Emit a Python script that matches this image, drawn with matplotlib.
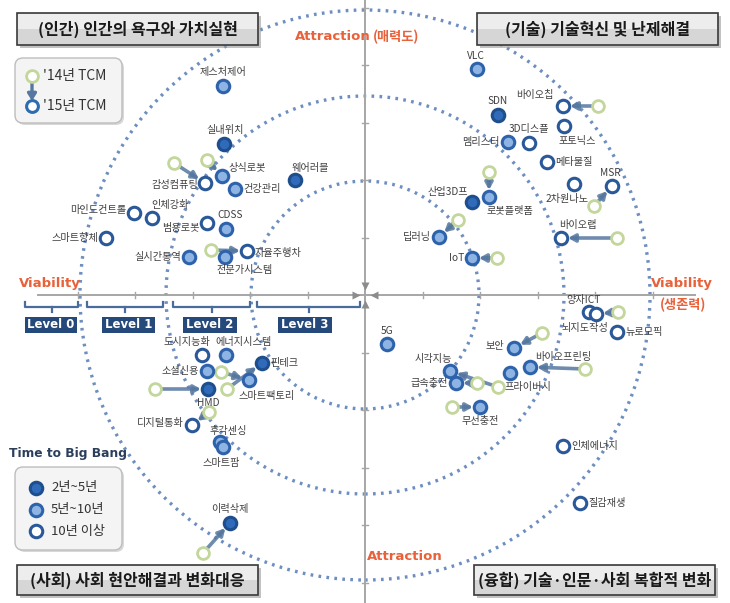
import matplotlib
matplotlib.use("Agg")
import matplotlib.pyplot as plt
from matplotlib.patches import Circle, FancyBboxPatch
import numpy as np

plt.rcParams['font.family'] = ['Noto Sans CJK KR', 'DejaVu Sans']

# ---------------- data (viability x, attraction y) ----------------
names = ['제스처제어', '실내위치', '상식로봇', '감성컴퓨팅', '웨어러블', '건강관리', '마인드컨트롤',
         '인체강화', '스마트항체', '범용로봇', 'CDSS', '자율주행차', '실시간통역', '전문가시스템',
         'VLC', 'SDN', '바이오칩', '3D디스플', '멤리스터', '포토닉스', '메타물질', '2차원나노',
         'MSR', '산업3D프', '로봇플랫폼', '딥러닝', 'IoT', '바이오랩',
         '도시지능화', '에너지시스템', '핀테크', '소셜신용', '스마트팩토리', 'HMD', '디지털통화',
         '후각센싱', '스마트팜', '이력삭제',
         '양자ICT', '뇌지도작성', '뉴로모픽', '5G', '보안', '바이오프린팅', '프라이버시',
         '시각지능', '급속충전', '무선충전', '인체에너지', '질감재생']
x15 = [-142, -141, -143, -160, -70, -130, -231, -213, -259, -158, -139, -118, -176, -140,
       112, 133, 198, 164, 143, 199, 182, 209, 247, 107, 124, 74, 107, 196,
       -163, -139, -103, -158, -116, -157, -173, -145, -142, -135,
       224, 231, 252, 22, 149, 165, 145, 85, 91, 115, 198, 215]
y15 = [209, 151, 119, 112, 115, 106, 82, 77, 57, 72, 66, 44, 38, 38,
       226, 180, 189, 152, 153, 169, 133, 111, 109, 93, 98, 58, 37, 57,
       -60, -60, -68, -76, -85, -94, -130, -147, -152, -228,
       -17, -19, -37, -49, -53, -72, -78, -76, -88, -112, -151, -208]
# time to big bang: 0 = 2~5y, 1 = 5~10y, 2 = 10y+
horizon = [1, 0, 1, 2, 0, 1, 2, 2, 2, 2, 1, 2, 1, 1,
           1, 0, 2, 2, 1, 2, 2, 2, 2, 0, 1, 1, 1, 2,
           2, 1, 0, 1, 1, 0, 2, 1, 1, 0,
           2, 2, 2, 1, 1, 1, 1, 1, 1, 1, 2, 2]
# '14 TCM positions (None = no move)
x14 = [None, None, -158, -191, None, None, None, None, None, None, None, -154, None, None,
       None, None, 233, None, None, None, None, None, 229, None, 124, 93, 132, 252,
       None, None, -138, None, -144, -210, -156, None, None, -162,
       None, 253, None, None, 177, 220, None, 133, 112, 87, None, None]
y14 = [None, None, 135, 132, None, None, None, None, None, None, None, 45, None, None,
       None, None, 189, None, None, None, None, None, 89, None, 123, 75, 37, 57,
       None, None, -94, None, -77, -94, -117, None, None, -258,
       None, -17, None, None, -38, -74, None, -92, -88, -112, None, None]

ring_radii = [114, 199, 285]
levels = ['Level 0', 'Level 1', 'Level 2', 'Level 3']
quadrant_titles = ['(인간) 인간의 욕구와 가치실현', '(기술) 기술혁신 및 난제해결',
                   '(사회) 사회 현안해결과 변화대응', '(융합) 기술·인문·사회 복합적 변화']
horizon_labels = ['2년~5년', '5년~10년', '10년 이상']
tcm_labels = ["'14년 TCM", "'15년 TCM"]

# label placement (dx, dy in px, alignment)
label_place = [(0, 14, 'c'), (1, 14, 'c'), (7, 8, 'l'), (-7, -2, 'r'), (15, 12, 'c'), (8, 0, 'l'),
               (-8, 3, 'r'), (18, 13, 'c'), (-8, 0, 'r'), (-7, -5, 'r'), (4, 14, 'c'), (8, -2, 'l'),
               (-8, 0, 'r'), (20, -13, 'c'),
               (-1, 13, 'c'), (0, 14, 'c'), (-28, 11, 'c'), (0, 14, 'c'), (-8, 0, 'r'), (13, -15, 'c'),
               (8, 0, 'l'), (-7, -15, 'c'), (-2, 13, 'c'), (-24, 10, 'c'), (21, -14, 'c'),
               (-8, 0, 'r'), (-8, 0, 'r'), (17, 13, 'c'),
               (-15, 13, 'c'), (18, 13, 'c'), (8, 0, 'l'), (-8, 0, 'r'), (18, -16, 'c'), (0, -14, 'c'),
               (-8, 2, 'r'), (8, 11, 'c'), (-2, -16, 'c'), (0, 14, 'c'),
               (-5, 12, 'c'), (-11, -14, 'c'), (8, 0, 'l'), (0, 13, 'c'), (-10, 2, 'r'),
               (33, 10, 'c'), (18, -14, 'c'), (-17, 12, 'c'), (-8, 0, 'r'), (0, -14, 'c'),
               (8, 0, 'l'), (8, 0, 'l')]

# ---------------- styles ----------------
FACE = ['#2F6BBA', '#8DB4E2', 'white']
EDGE = ['#1F4E8C', '#2E63AC', '#2A5898']
ORANGE = '#E8613A'
NAVY = '#24497A'
AXC = '#A6A6A6'

fig = plt.figure(figsize=(7.30, 6.03), dpi=100)
ax = fig.add_axes([0, 0, 1, 1])
ax.set_xlim(-365, 365)
ax.set_ylim(-308, 295)
ax.set_aspect('equal')
ax.axis('off')


def P(px, py):
    return px - 365, 295 - py


# rings
for r in ring_radii:
    ax.add_patch(Circle((0, 0), r, fill=False, ec='#6D8EC0', lw=2.4,
                        ls=(0, (0.8, 1.6)), zorder=1))

# axes
ax.plot([-327, 330], [0, 0], color=AXC, lw=1.4, zorder=2)
ax.plot([0, 0], [-308, 295], color=AXC, lw=1.4, zorder=2)
tk = 57.5
for k in range(1, 6):
    for s in (-1, 1):
        ax.plot([s * k * tk] * 2, [-3, 3], color=AXC, lw=1.0, zorder=2)
        ax.plot([-3, 3], [s * k * tk] * 2, color=AXC, lw=1.0, zorder=2)
for (mx, my, m) in [(-9, 0, '>'), (9, 0, '<'), (0, 9, 'v'), (0, -9, '^')]:
    ax.plot(mx, my, marker=m, ms=6, color='#8C8C8C', mec='none', zorder=3)

# level brackets and boxes
brackets = [(25, 78), (87, 163), (173, 250), (257, 360)]
boxes = [(25, 77), (102, 155), (183, 237), (278, 332)]
for (a, b), (c, d), lab in zip(brackets, boxes, levels):
    xa, _ = P(a, 0)
    xb, _ = P(b, 0)
    xm = (xa + xb) / 2
    ax.plot([xa, xa, xb, xb], [P(0, 302)[1], P(0, 307)[1], P(0, 307)[1], P(0, 302)[1]],
            color='#4A6C9B', lw=1.6, zorder=3)
    ax.plot([xm, xm], [P(0, 307)[1], P(0, 312)[1]], color='#4A6C9B', lw=1.6, zorder=3)
    x0, y0 = P(c, 333)
    ax.add_patch(FancyBboxPatch((x0, y0), d - c, 16, boxstyle='square,pad=0',
                                fc=NAVY, ec='none', zorder=3))
    ax.text(x0 + (d - c) / 2, y0 + 8, lab, color='white', fontsize=8.5, fontweight='bold',
            ha='center', va='center', family='DejaVu Sans', zorder=4)

# axis titles
ax.text(*P(333, 37), 'Attraction', color=ORANGE, fontsize=9.5, fontweight='bold',
        ha='center', va='center', family='DejaVu Sans')
ax.text(*P(396, 37), '(매력도)', color=ORANGE, fontsize=9.5, fontweight='bold',
        ha='center', va='center')
ax.text(*P(405, 556), 'Attraction', color=ORANGE, fontsize=9.5, fontweight='bold',
        ha='center', va='center', family='DejaVu Sans')
ax.text(*P(50, 283), 'Viability', color=ORANGE, fontsize=9.5, fontweight='bold',
        ha='center', va='center', family='DejaVu Sans')
ax.text(*P(682, 283), 'Viability', color=ORANGE, fontsize=9.5, fontweight='bold',
        ha='center', va='center', family='DejaVu Sans')
ax.text(*P(683, 305), '(생존력)', color=ORANGE, fontsize=9.5, fontweight='bold',
        ha='center', va='center')

# movement arrows and '14 positions
for i in range(len(names)):
    if x14[i] is None:
        continue
    ax.annotate('', xy=(x15[i], y15[i]), xytext=(x14[i], y14[i]),
                arrowprops=dict(arrowstyle='-|>,head_length=0.4,head_width=0.22',
                                color='#56779F', lw=2.6, alpha=0.85,
                                shrinkA=4, shrinkB=5), zorder=4)
    ax.plot(x14[i], y14[i], 'o', ms=8.5, mfc='white', mec='#C3D69B', mew=2.0, zorder=5)

# '15 positions
for i in range(len(names)):
    h = horizon[i]
    ax.plot(x15[i], y15[i], 'o', ms=9, mfc=FACE[h], mec=EDGE[h], mew=2.2, zorder=6)
    dx, dy, al = label_place[i]
    ha = {'l': 'left', 'r': 'right', 'c': 'center'}[al]
    ax.text(x15[i] + dx, y15[i] + dy, names[i], fontsize=7.3, color='#3F3F3F',
            ha=ha, va='center', zorder=7)

# quadrant title boxes
title_boxes = [(17, 13, 258, 45), (477, 13, 718, 45), (17, 565, 258, 595), (474, 565, 715, 595)]
for (a, b, c, d), t in zip(title_boxes, quadrant_titles):
    x0, y0 = P(a, d)
    w, hgt = c - a, d - b
    ax.add_patch(FancyBboxPatch((x0 + 3, y0 - 3), w, hgt, boxstyle='square,pad=0',
                                fc='#9A9A9A', ec='none', alpha=0.6, zorder=8))
    ax.add_patch(FancyBboxPatch((x0, y0), w, hgt, boxstyle='square,pad=0',
                                fc='#D6D6D6', ec='#3A3A3A', lw=1.2, zorder=9))
    ax.add_patch(FancyBboxPatch((x0 + 1, y0 + hgt / 2), w - 2, hgt / 2 - 1, boxstyle='square,pad=0',
                                fc='#EDEDED', ec='none', zorder=9))
    ax.text(x0 + w / 2, y0 + hgt / 2, t, fontsize=11.5, fontweight='bold', color='#1A1A1A',
            ha='center', va='center', zorder=10)

# TCM legend
x0, y0 = P(15, 123)
ax.add_patch(FancyBboxPatch((x0 + 2, y0 - 2), 107, 65, boxstyle='round,pad=0,rounding_size=8',
                            fc='#BFBFBF', ec='none', alpha=0.6, zorder=8))
ax.add_patch(FancyBboxPatch((x0, y0), 107, 65, boxstyle='round,pad=0,rounding_size=8',
                            fc='#F4F4F4', ec='#BDBDBD', lw=1.0, zorder=9))
ax.annotate('', xy=P(32, 101), xytext=P(32, 80),
            arrowprops=dict(arrowstyle='-|>,head_length=0.4,head_width=0.25', color='#56779F',
                            lw=2.4, shrinkA=2, shrinkB=0), zorder=10)
ax.plot(*P(32, 76), 'o', ms=8.5, mfc='white', mec='#C3D69B', mew=2.0, zorder=11)
ax.plot(*P(32, 106), 'o', ms=8.5, mfc='white', mec='#2E6CB0', mew=2.2, zorder=11)
ax.text(*P(43, 76), tcm_labels[0], fontsize=10, color='#333333', ha='left', va='center', zorder=11)
ax.text(*P(43, 106), tcm_labels[1], fontsize=10, color='#333333', ha='left', va='center', zorder=11)

# Time to Big Bang legend
ax.text(*P(68, 453), 'Time to Big Bang', fontsize=8.8, fontweight='bold', color='#2B3F5C',
        ha='center', va='center', family='DejaVu Sans', zorder=11)
x0, y0 = P(15, 550)
ax.add_patch(FancyBboxPatch((x0 + 2, y0 - 2), 107, 83, boxstyle='round,pad=0,rounding_size=8',
                            fc='#BFBFBF', ec='none', alpha=0.6, zorder=8))
ax.add_patch(FancyBboxPatch((x0, y0), 107, 83, boxstyle='round,pad=0,rounding_size=8',
                            fc='#F4F4F4', ec='#BDBDBD', lw=1.0, zorder=9))
for k, lab in enumerate(horizon_labels):
    py = 488 + 21.5 * k
    ax.plot(*P(36, py), 'o', ms=9, mfc=FACE[k], mec=EDGE[k], mew=2.2, zorder=11)
    ax.text(*P(51, py), lab, fontsize=9.5, color='#333333', ha='left', va='center', zorder=11)

fig.savefig('out.png', dpi=100)
